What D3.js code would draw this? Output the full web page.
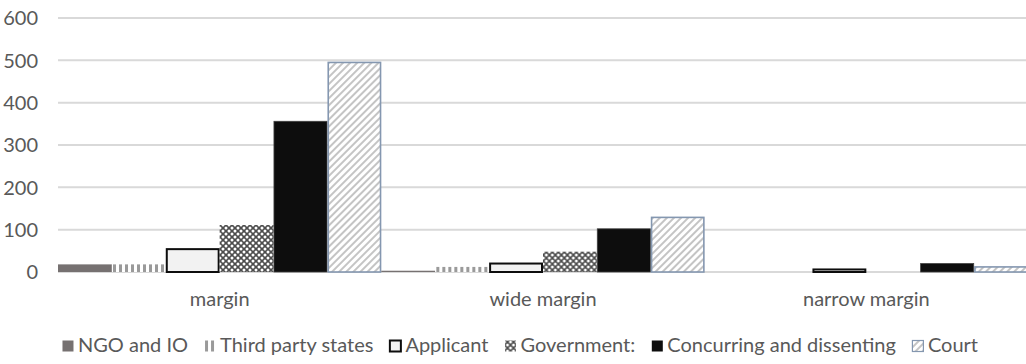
<!DOCTYPE html>
<html>
<head>
<meta charset="utf-8">
<script src="https://cdn.jsdelivr.net/npm/d3@7"></script>
<style>
  body { margin: 0; background: #fff; }
  text { font-family: Lato, "Open Sans", sans-serif; fill: #595959; }
</style>
</head>
<body>
<script>
// chart data
const categories = ["margin", "wide margin", "narrow margin"];
const seriesNames = ["NGO and IO", "Third party states", "Applicant", "Government:", "Concurring and dissenting", "Court"];
const ngo = [18, 3, 0];
const thirdParty = [18, 12, 0];
const applicant = [54, 20, 6];
const government = [111, 48, 0];
const concurring = [356, 102, 20];
const court = [495, 129, 12];
const yTicks = [0, 100, 200, 300, 400, 500, 600];

function main(){
    const width = 1026;
    const height = 364;

    const svg = d3.select("body").append("svg")
        .attr("width", width)
        .attr("height", height);

    // fills for each series, some are patterns
    const defs = svg.append("defs");

    const vStripe = defs.append("pattern")
        .attr("id", "vstripe")
        .attr("patternUnits", "userSpaceOnUse")
        .attr("width", 6).attr("height", 6);
    vStripe.append("rect").attr("width", 6).attr("height", 6).attr("fill", "#fff");
    vStripe.append("rect").attr("x", 1).attr("width", 3).attr("height", 6).attr("fill", "#9a9a9a");

    const diamond = defs.append("pattern")
        .attr("id", "diamond")
        .attr("patternUnits", "userSpaceOnUse")
        .attr("width", 6).attr("height", 6);
    diamond.append("rect").attr("width", 6).attr("height", 6).attr("fill", "#4d4d4d");
    [[0,0],[6,0],[0,6],[6,6],[3,3]].forEach(p => {
        diamond.append("circle").attr("cx", p[0]).attr("cy", p[1]).attr("r", 1.5).attr("fill", "#fff");
    });

    const diag = defs.append("pattern")
        .attr("id", "diag")
        .attr("patternUnits", "userSpaceOnUse")
        .attr("width", 5).attr("height", 5)
        .attr("patternTransform", "rotate(45)");
    diag.append("rect").attr("width", 5).attr("height", 5).attr("fill", "#fff");
    diag.append("rect").attr("width", 2).attr("height", 5).attr("fill", "#c4c4c4");

    const fills = ["#767171", "url(#vstripe)", "#f2f2f2", "url(#diamond)", "#0d0d0d", "url(#diag)"];
    const strokes = ["none", "none", "#0d0d0d", "none", "#404040", "#8497b0"];
    const strokeWidths = [0, 0, 2, 0, 0.8, 1.6];

    const values = [ngo, thirdParty, applicant, government, concurring, court];

    const left = 58, right = 1028, top = 18, bottom = 272;

    const x0 = d3.scaleBand().domain(categories).range([left, right]).padding(0);
    const x1 = d3.scaleBand().domain(d3.range(seriesNames.length)).range([0, x0.bandwidth()]).padding(0);
    const yScale = d3.scaleLinear().domain([0, 600]).range([bottom, top]);

    // gridlines
    svg.append("g")
        .selectAll("line")
        .data(yTicks)
        .enter().append("line")
        .attr("x1", left)
        .attr("x2", width)
        .attr("y1", d => yScale(d))
        .attr("y2", d => yScale(d))
        .attr("stroke", "#d9d9d9")
        .attr("stroke-width", 2);

    // y tick labels
    svg.append("g")
        .selectAll("text")
        .data(yTicks)
        .enter().append("text")
        .attr("x", 38)
        .attr("y", d => yScale(d))
        .attr("dy", "0.36em")
        .attr("text-anchor", "end")
        .attr("font-size", "20px")
        .text(d => d);

    // bars
    const groups = svg.append("g")
        .selectAll("g")
        .data(categories)
        .enter().append("g")
        .attr("transform", d => "translate(" + x0(d) + ",0)");

    groups.selectAll("rect")
        .data((c, ci) => values.map((s, si) => ({si: si, v: s[ci]})))
        .enter().append("rect")
        .filter(d => d.v > 0)
        .attr("x", d => x1(d.si) + strokeWidths[d.si] / 2)
        .attr("width", d => x1.bandwidth() - strokeWidths[d.si])
        .attr("y", d => yScale(d.v))
        .attr("height", d => yScale(0) - yScale(d.v))
        .attr("fill", d => fills[d.si])
        .attr("stroke", d => strokes[d.si])
        .attr("stroke-width", d => strokeWidths[d.si]);

    // category labels
    svg.append("g")
        .selectAll("text")
        .data(categories)
        .enter().append("text")
        .attr("x", d => x0(d) + x0.bandwidth() / 2)
        .attr("y", 306)
        .attr("text-anchor", "middle")
        .attr("font-size", "20px")
        .text(d => d);

    // legend
    const legend = svg.append("g");
    let lx = 0;
    seriesNames.forEach((name, i) => {
        const item = legend.append("g").attr("transform", "translate(" + lx + ",0)");
        item.append("rect")
            .attr("x", 0.5).attr("y", 340.5)
            .attr("width", 11).attr("height", 11)
            .attr("fill", fills[i])
            .attr("stroke", i == 2 ? "#0d0d0d" : (i == 5 ? "#8497b0" : "none"))
            .attr("stroke-width", i == 2 ? 2 : 1.2);
        const t = item.append("text")
            .attr("x", 16)
            .attr("y", 352)
            .attr("font-size", "20px")
            .text(name);
        lx += 16 + t.node().getComputedTextLength() + 16;
    });
    const legendWidth = lx - 16;
    legend.attr("transform", "translate(" + (520 - legendWidth / 2) + ",0)");
}
main();
</script>
</body>
</html>
